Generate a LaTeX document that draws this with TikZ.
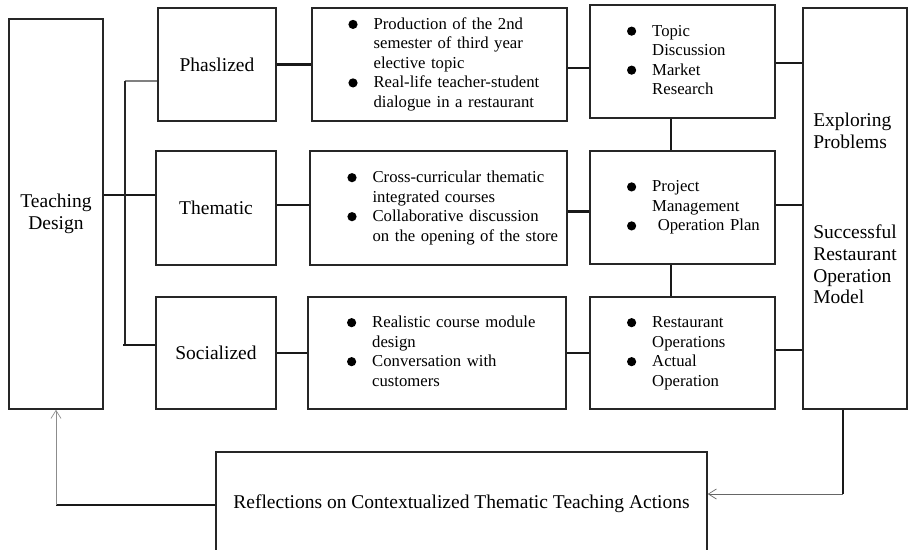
\documentclass[tikz,border=0pt]{standalone}
\usepackage{fontspec}
\setmainfont{Liberation Serif}
\usetikzlibrary{arrows.meta}
\newcommand{\bigtxt}{\fontsize{19.5}{21.7}\selectfont}
\newcommand{\smtxt}{\fontsize{16.7}{19.5}\selectfont}
\newcommand{\bdot}{\tikz[baseline=-5pt]\fill (0,0) circle (4.6pt);}
\tikzset{
	blk/.style={draw=black!85,line width=1.5pt,inner sep=0pt,font=\bigtxt,align=center},
	lst/.style={blk,font=\smtxt,align=left,inner ysep=0pt},
	conn/.style={line width=2.8pt,draw=black!90},
	vconn/.style={line width=1.8pt,draw=black!85},
	gconn/.style={line width=1.8pt,draw=black!50},
	arr/.style={line width=0.7pt,draw=black!60,-{Straight Barb[length=8pt,width=10pt,line width=0.7pt]}}
}
\begin{document}
\begin{tikzpicture}[x=1pt,y=-1pt]
		\useasboundingbox (0,0) rectangle (909,549);
		\node[blk,minimum width=94pt,minimum height=390pt] (td) at (56,214) {Teaching\\Design};
		\node[blk,minimum width=118pt,minimum height=113pt] (ph) at (217,64.5) {Phaslized};
		\node[blk,minimum width=120pt,minimum height=114pt] (th) at (216,208) {Thematic};
		\node[blk,minimum width=120pt,minimum height=112pt] (so) at (216,353) {Socialized};
		\node[lst,minimum width=255pt,minimum height=113pt,text width=182.2pt,inner xsep=36.4pt] (a1) at (439.5,64.5)
		{\begin{tabular}{@{}l@{\hspace{16pt}}l@{}}\bdot & Production of the 2nd\\ & semester of third year\\ & elective topic\\ \bdot & Real-life teacher-student\\ & dialogue in a restaurant\end{tabular}};
		\node[lst,minimum width=257pt,minimum height=114pt,text width=182.2pt,inner xsep=37.4pt] (a2) at (438.5,208)
		{\begin{tabular}{@{}l@{\hspace{16pt}}l@{}}\bdot & Cross-curricular thematic\\ & integrated courses\\ \bdot & Collaborative discussion\\ & on the opening of the store\end{tabular}};
		\node[lst,minimum width=258pt,minimum height=112pt,text width=180pt,inner xsep=39pt] (a3) at (437,353)
		{\begin{tabular}{@{}l@{\hspace{16pt}}l@{}}\bdot & Realistic course module\\ & design\\ \bdot & Conversation with\\ & customers\end{tabular}};
		\node[lst,minimum width=185pt,minimum height=113pt,text width=111pt,inner xsep=37pt] (b1) at (682.5,61.5)
		{\begin{tabular}{@{}l@{\hspace{16pt}}l@{}}\bdot & Topic\\ & Discussion\\ \bdot & Market\\ & Research\end{tabular}};
		\node[lst,minimum width=185pt,minimum height=113pt,text width=111pt,inner xsep=37pt] (b2) at (682.5,207.5)
		{\begin{tabular}{@{}l@{\hspace{16pt}}l@{}}\bdot & Project\\ & Management\\ \bdot & ~Operation Plan\end{tabular}};
		\node[lst,minimum width=185pt,minimum height=112pt,text width=111pt,inner xsep=37pt] (b3) at (682.5,353)
		{\begin{tabular}{@{}l@{\hspace{16pt}}l@{}}\bdot & Restaurant\\ & Operations\\ \bdot & Actual\\ & Operation\end{tabular}};
		\node[blk,align=left,minimum width=104pt,minimum height=401pt] (rt) at (855,208.5)
		{Exploring\\Problems\\[68.6pt]Successful\\Restaurant\\Operation\\Model};
		\node[blk,minimum width=491pt,minimum height=103pt] (rf) at (461.5,503.5) {Reflections on Contextualized Thematic Teaching Actions};
		\coordinate (jt) at (125,81);
		\coordinate (jm) at (125,195);
		\coordinate (jb) at (125,345);
		\coordinate (rc) at (843,494);
		\coordinate (lc) at (56,505);
		\draw[conn] (td.east |- jm) -- (th.west |- jm);
		\draw[gconn] (jt) -- (ph.west |- jt);
		\draw[vconn] (jt) -- (jb);
		\draw[conn] ([xshift=-2pt]jb) -- (so.west |- jb);
		\draw[conn] (ph.east) -- (ph.east -| a1.west);
		\draw[conn] ([yshift=3pt]th.east) -- ([yshift=3pt]th.east -| a2.west);
		\draw[conn] (so.east) -- (so.east -| a3.west);
		\draw[conn] ([yshift=-3.5pt]a1.east) -- ([yshift=-3.5pt]a1.east -| b1.west);
		\draw[conn] ([yshift=-3.7pt]a2.east) -- ([yshift=-3.7pt]a2.east -| b2.west);
		\draw[conn] (a3.east) -- (a3.east -| b3.west);
		\draw[conn] ([xshift=-11.5pt]b1.south) -- ([xshift=-11.5pt]b2.north);
		\draw[conn] ([xshift=-11.5pt]b2.south) -- ([xshift=-11.5pt]b3.north);
		\draw[conn] ([yshift=-1.5pt]b1.east) -- ([yshift=-1.5pt]b1.east -| rt.west);
		\draw[conn] ([yshift=2.5pt]b2.east) -- ([yshift=2.5pt]b2.east -| rt.west);
		\draw[conn] ([yshift=3pt]b3.east) -- ([yshift=3pt]b3.east -| rt.west);
		\draw[conn] (rt.south -| rc) -- (rc);
		\draw[arr] (rc) -- (rf.east |- rc);
		\draw[conn] (rf.west |- lc) -- (lc);
		\draw[arr,draw=black!45] (lc) -- (td.south);
\end{tikzpicture}
\end{document}
